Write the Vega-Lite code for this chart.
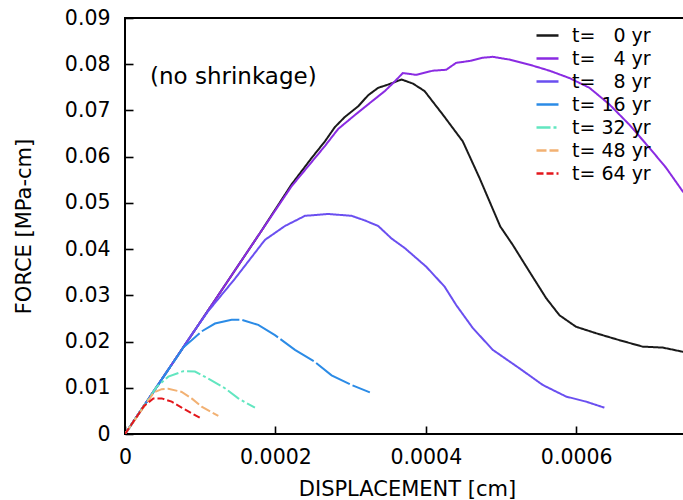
{
  "$schema": "https://vega.github.io/schema/vega-lite/v6.json",
  "width": 564,
  "height": 416,
  "autosize": {"type": "none"},
  "padding": {"left": 125, "top": 18, "right": 0, "bottom": 66},
  "background": "white",
  "title": {
    "text": "(no shrinkage)",
    "orient": "top",
    "anchor": "start",
    "frame": "group",
    "fontSize": 23,
    "fontWeight": "normal",
    "color": "black",
    "dx": 25,
    "dy": 85
  },
  "config": {
    "font": "DejaVu Sans",
    "view": {"stroke": "black", "strokeWidth": 2},
    "axis": {
      "grid": false,
      "domain": false,
      "ticks": true,
      "offset": -8,
      "tickColor": "black",
      "tickWidth": 1.6,
      "tickSize": 8,
      "labelFlush": false,
      "labelColor": "black",
      "labelFontSize": 20.5,
      "titleColor": "black",
      "titleFontSize": 21,
      "titleFontWeight": "normal"
    }
  },
  "data": {
    "values": [
      {"t": "t= \u00a0\u00a00 yr", "x": 0, "y": 0},
      {"t": "t= \u00a0\u00a00 yr", "x": 0.0001, "y": 0.0242},
      {"t": "t= \u00a0\u00a00 yr", "x": 0.00018, "y": 0.0436},
      {"t": "t= \u00a0\u00a00 yr", "x": 0.0002215, "y": 0.0540},
      {"t": "t= \u00a0\u00a00 yr", "x": 0.0002481, "y": 0.0597},
      {"t": "t= \u00a0\u00a00 yr", "x": 0.0002658, "y": 0.0633},
      {"t": "t= \u00a0\u00a00 yr", "x": 0.0002791, "y": 0.0664},
      {"t": "t= \u00a0\u00a00 yr", "x": 0.0002924, "y": 0.0686},
      {"t": "t= \u00a0\u00a00 yr", "x": 0.0003101, "y": 0.0709},
      {"t": "t= \u00a0\u00a00 yr", "x": 0.0003234, "y": 0.0733},
      {"t": "t= \u00a0\u00a00 yr", "x": 0.0003367, "y": 0.0749},
      {"t": "t= \u00a0\u00a00 yr", "x": 0.00035, "y": 0.0756},
      {"t": "t= \u00a0\u00a00 yr", "x": 0.0003677, "y": 0.0767},
      {"t": "t= \u00a0\u00a00 yr", "x": 0.000383, "y": 0.0758},
      {"t": "t= \u00a0\u00a00 yr", "x": 0.0003983, "y": 0.0742},
      {"t": "t= \u00a0\u00a00 yr", "x": 0.0004226, "y": 0.0691},
      {"t": "t= \u00a0\u00a00 yr", "x": 0.0004492, "y": 0.0633},
      {"t": "t= \u00a0\u00a00 yr", "x": 0.0004714, "y": 0.0554},
      {"t": "t= \u00a0\u00a00 yr", "x": 0.000499, "y": 0.0449},
      {"t": "t= \u00a0\u00a00 yr", "x": 0.0005157, "y": 0.0409},
      {"t": "t= \u00a0\u00a00 yr", "x": 0.0005379, "y": 0.0351},
      {"t": "t= \u00a0\u00a00 yr", "x": 0.00056, "y": 0.0294},
      {"t": "t= \u00a0\u00a00 yr", "x": 0.0005777, "y": 0.0257},
      {"t": "t= \u00a0\u00a00 yr", "x": 0.0005998, "y": 0.0232},
      {"t": "t= \u00a0\u00a00 yr", "x": 0.0006264, "y": 0.0218},
      {"t": "t= \u00a0\u00a00 yr", "x": 0.0006575, "y": 0.0203},
      {"t": "t= \u00a0\u00a00 yr", "x": 0.0006884, "y": 0.0189},
      {"t": "t= \u00a0\u00a00 yr", "x": 0.000715, "y": 0.0187},
      {"t": "t= \u00a0\u00a00 yr", "x": 0.0007416, "y": 0.0178},
      {"t": "t= \u00a0\u00a00 yr", "x": 0.00076, "y": 0.0174},
      {"t": "t= \u00a0\u00a04 yr", "x": 0, "y": 0},
      {"t": "t= \u00a0\u00a04 yr", "x": 0.0001, "y": 0.0242},
      {"t": "t= \u00a0\u00a04 yr", "x": 0.00018, "y": 0.0436},
      {"t": "t= \u00a0\u00a04 yr", "x": 0.0002215, "y": 0.0536},
      {"t": "t= \u00a0\u00a04 yr", "x": 0.0002658, "y": 0.0623},
      {"t": "t= \u00a0\u00a04 yr", "x": 0.0002835, "y": 0.0660},
      {"t": "t= \u00a0\u00a04 yr", "x": 0.0003057, "y": 0.0690},
      {"t": "t= \u00a0\u00a04 yr", "x": 0.0003278, "y": 0.0719},
      {"t": "t= \u00a0\u00a04 yr", "x": 0.0003456, "y": 0.0742},
      {"t": "t= \u00a0\u00a04 yr", "x": 0.0003589, "y": 0.0763},
      {"t": "t= \u00a0\u00a04 yr", "x": 0.0003695, "y": 0.0781},
      {"t": "t= \u00a0\u00a04 yr", "x": 0.0003872, "y": 0.0777},
      {"t": "t= \u00a0\u00a04 yr", "x": 0.0004094, "y": 0.0786},
      {"t": "t= \u00a0\u00a04 yr", "x": 0.0004271, "y": 0.0788},
      {"t": "t= \u00a0\u00a04 yr", "x": 0.0004404, "y": 0.0803},
      {"t": "t= \u00a0\u00a04 yr", "x": 0.0004581, "y": 0.0807},
      {"t": "t= \u00a0\u00a04 yr", "x": 0.0004758, "y": 0.0814},
      {"t": "t= \u00a0\u00a04 yr", "x": 0.0004891, "y": 0.0816},
      {"t": "t= \u00a0\u00a04 yr", "x": 0.0005113, "y": 0.0810},
      {"t": "t= \u00a0\u00a04 yr", "x": 0.0005379, "y": 0.0799},
      {"t": "t= \u00a0\u00a04 yr", "x": 0.0005645, "y": 0.0786},
      {"t": "t= \u00a0\u00a04 yr", "x": 0.0005911, "y": 0.0770},
      {"t": "t= \u00a0\u00a04 yr", "x": 0.0006176, "y": 0.0749},
      {"t": "t= \u00a0\u00a04 yr", "x": 0.0006442, "y": 0.0713},
      {"t": "t= \u00a0\u00a04 yr", "x": 0.0006708, "y": 0.0669},
      {"t": "t= \u00a0\u00a04 yr", "x": 0.0006974, "y": 0.0619},
      {"t": "t= \u00a0\u00a04 yr", "x": 0.0007195, "y": 0.0576},
      {"t": "t= \u00a0\u00a04 yr", "x": 0.0007416, "y": 0.0525},
      {"t": "t= \u00a0\u00a04 yr", "x": 0.00076, "y": 0.0490},
      {"t": "t= \u00a0\u00a08 yr", "x": 0, "y": 0},
      {"t": "t= \u00a0\u00a08 yr", "x": 0.00009, "y": 0.0218},
      {"t": "t= \u00a0\u00a08 yr", "x": 0.0001107, "y": 0.0266},
      {"t": "t= \u00a0\u00a08 yr", "x": 0.0001462, "y": 0.0336},
      {"t": "t= \u00a0\u00a08 yr", "x": 0.0001861, "y": 0.0420},
      {"t": "t= \u00a0\u00a08 yr", "x": 0.0002127, "y": 0.0450},
      {"t": "t= \u00a0\u00a08 yr", "x": 0.0002393, "y": 0.0472},
      {"t": "t= \u00a0\u00a08 yr", "x": 0.0002703, "y": 0.0476},
      {"t": "t= \u00a0\u00a08 yr", "x": 0.0003013, "y": 0.0472},
      {"t": "t= \u00a0\u00a08 yr", "x": 0.000319, "y": 0.0462},
      {"t": "t= \u00a0\u00a08 yr", "x": 0.0003367, "y": 0.0450},
      {"t": "t= \u00a0\u00a08 yr", "x": 0.0003544, "y": 0.0423},
      {"t": "t= \u00a0\u00a08 yr", "x": 0.0003722, "y": 0.0402},
      {"t": "t= \u00a0\u00a08 yr", "x": 0.0004005, "y": 0.0362},
      {"t": "t= \u00a0\u00a08 yr", "x": 0.0004249, "y": 0.0319},
      {"t": "t= \u00a0\u00a08 yr", "x": 0.0004404, "y": 0.0279},
      {"t": "t= \u00a0\u00a08 yr", "x": 0.0004626, "y": 0.0229},
      {"t": "t= \u00a0\u00a08 yr", "x": 0.0004891, "y": 0.0182},
      {"t": "t= \u00a0\u00a08 yr", "x": 0.0005246, "y": 0.0142},
      {"t": "t= \u00a0\u00a08 yr", "x": 0.0005556, "y": 0.0106},
      {"t": "t= \u00a0\u00a08 yr", "x": 0.0005866, "y": 0.0081},
      {"t": "t= \u00a0\u00a08 yr", "x": 0.0006132, "y": 0.0070},
      {"t": "t= \u00a0\u00a08 yr", "x": 0.0006375, "y": 0.0057},
      {"t": "t= 16 yr", "x": 0, "y": 0},
      {"t": "t= 16 yr", "x": 0.0000775, "y": 0.0187},
      {"t": "t= 16 yr", "x": 0.0001019, "y": 0.0222},
      {"t": "t= 16 yr", "x": 0.0001196, "y": 0.0239},
      {"t": "t= 16 yr", "x": 0.0001418, "y": 0.0247},
      {"t": "t= 16 yr", "x": 0.0001551, "y": 0.0247},
      {"t": "t= 16 yr", "x": 0.0001772, "y": 0.0236},
      {"t": "t= 16 yr", "x": 0.0001994, "y": 0.0214},
      {"t": "t= 16 yr", "x": 0.000226, "y": 0.0182},
      {"t": "t= 16 yr", "x": 0.0002525, "y": 0.0156},
      {"t": "t= 16 yr", "x": 0.0002747, "y": 0.0127},
      {"t": "t= 16 yr", "x": 0.0003013, "y": 0.0106},
      {"t": "t= 16 yr", "x": 0.0003256, "y": 0.0090},
      {"t": "t= 32 yr", "x": 0, "y": 0},
      {"t": "t= 32 yr", "x": 0.0000421, "y": 0.0102},
      {"t": "t= 32 yr", "x": 0.0000576, "y": 0.0124},
      {"t": "t= 32 yr", "x": 0.0000775, "y": 0.0136},
      {"t": "t= 32 yr", "x": 0.000093, "y": 0.0135},
      {"t": "t= 32 yr", "x": 0.0001107, "y": 0.0120},
      {"t": "t= 32 yr", "x": 0.0001329, "y": 0.0099},
      {"t": "t= 32 yr", "x": 0.0001506, "y": 0.0077},
      {"t": "t= 32 yr", "x": 0.0001728, "y": 0.0057},
      {"t": "t= 48 yr", "x": 0, "y": 0},
      {"t": "t= 48 yr", "x": 0.0000385, "y": 0.0090},
      {"t": "t= 48 yr", "x": 0.0000488, "y": 0.0097},
      {"t": "t= 48 yr", "x": 0.0000576, "y": 0.0098},
      {"t": "t= 48 yr", "x": 0.0000754, "y": 0.0091},
      {"t": "t= 48 yr", "x": 0.0000886, "y": 0.0077},
      {"t": "t= 48 yr", "x": 0.0001019, "y": 0.0059},
      {"t": "t= 48 yr", "x": 0.0001241, "y": 0.0039},
      {"t": "t= 64 yr", "x": 0, "y": 0},
      {"t": "t= 64 yr", "x": 0.000025, "y": 0.0060},
      {"t": "t= 64 yr", "x": 0.0000377, "y": 0.0077},
      {"t": "t= 64 yr", "x": 0.0000488, "y": 0.0077},
      {"t": "t= 64 yr", "x": 0.0000621, "y": 0.0070},
      {"t": "t= 64 yr", "x": 0.0000754, "y": 0.0057},
      {"t": "t= 64 yr", "x": 0.0000886, "y": 0.0045},
      {"t": "t= 64 yr", "x": 0.0000997, "y": 0.0035}
    ]
  },
  "mark": {"type": "line", "clip": true, "strokeWidth": 2},
  "encoding": {
    "x": {
      "field": "x", "type": "quantitative",
      "scale": {"domain": [0, 0.00075], "nice": false, "zero": false},
      "axis": {
        "values": [0, 0.0002, 0.0004, 0.0006],
        "labelExpr": "datum.value == 0 ? '0' : format(datum.value, '.4f')",
        "labelPadding": 13,
        "title": "DISPLACEMENT [cm]",
        "titlePadding": 11
      }
    },
    "y": {
      "field": "y", "type": "quantitative",
      "scale": {"domain": [0, 0.09], "nice": false},
      "axis": {
        "values": [0, 0.01, 0.02, 0.03, 0.04, 0.05, 0.06, 0.07, 0.08, 0.09],
        "labelExpr": "datum.value == 0 ? '0' : format(datum.value, '.2f')",
        "labelPadding": 15,
        "title": "FORCE [MPa-cm]",
        "titlePadding": 30
      }
    },
    "color": {
      "field": "t", "type": "nominal",
      "scale": {
        "domain": ["t= \u00a0\u00a00 yr", "t= \u00a0\u00a04 yr", "t= \u00a0\u00a08 yr", "t= 16 yr", "t= 32 yr", "t= 48 yr", "t= 64 yr"],
        "range": ["#1a1a1a", "#8a2be2", "#6a4ff0", "#2b8be6", "#62e6c0", "#f2b173", "#e3171c"]
      },
      "legend": {
        "orient": "none",
        "legendX": 410,
        "legendY": 5,
        "title": null,
        "symbolType": "stroke",
        "symbolSize": 484,
        "symbolStrokeWidth": 2.5,
        "labelFontSize": 19,
        "labelColor": "black",
        "labelOffset": 12,
        "rowPadding": -0.7,
        "padding": 0
      }
    },
    "strokeDash": {
      "field": "t", "type": "nominal",
      "scale": {
        "domain": ["t= \u00a0\u00a00 yr", "t= \u00a0\u00a04 yr", "t= \u00a0\u00a08 yr", "t= 16 yr", "t= 32 yr", "t= 48 yr", "t= 64 yr"],
        "range": [[1, 0], [1, 0], [1, 0], [40, 3], [14, 3, 3, 3], [10, 3], [7, 3]]
      },
      "legend": null
    }
  }
}
